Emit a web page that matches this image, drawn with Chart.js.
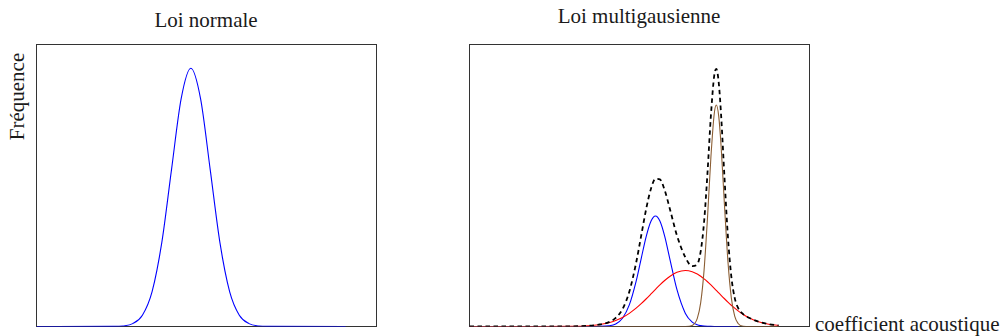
<!DOCTYPE html>
<html>
<head>
<meta charset="utf-8">
<script src="https://cdn.jsdelivr.net/npm/chart.js@4/dist/chart.umd.min.js"></script>
<style>
  html, body { margin: 0; padding: 0; background: #fff; }
  body { width: 1008px; height: 336px; position: relative; overflow: hidden; }
  .txt { position: absolute; font-family: "Liberation Serif", "Times New Roman", serif; font-size: 21px; line-height: 21px; color: #1a1a1a; white-space: nowrap; }
  .panel { position: absolute; top: 40px; width: 352px; height: 292px; }
</style>
</head>
<body>
<div class="txt" id="t1" style="left:206px; top:9.7px; transform:translateX(-50%);">Loi normale</div>
<div class="txt" id="t2" style="left:639px; top:5.7px; transform:translateX(-50%);">Loi multigausienne</div>
<div class="txt" id="yl" style="left:-82.6px; top:85.5px; width:200px; text-align:center; transform:rotate(-90deg);">Fréquence</div>
<div class="txt" id="xl" style="left:815px; top:314.4px;">coefficient acoustique</div>
<div class="panel" style="left:30px;"><canvas id="c1"></canvas></div>
<div class="panel" style="left:463px;"><canvas id="c2"></canvas></div>
<script>
// ---- data (x in % of box width, y as fraction of box height) ----
const leftX = [0, 22.6, 25.45, 28.3, 31.15, 34.0, 36.85, 39.7, 42.55, 45.4, 48.25, 51.1, 53.95, 56.8, 59.65, 62.5, 65.35, 68.2, 90.9];
const leftNormal = [0, 0.0003, 0.0020, 0.0102, 0.0402, 0.1239, 0.2973, 0.5553, 0.8080, 0.9156, 0.8080, 0.5553, 0.2973, 0.1239, 0.0402, 0.0102, 0.0020, 0.0003, 0];

const rightX = [0, 20, 30, 35, 38, 41, 43, 45, 47, 49, 50.5, 52, 53.4, 54.7, 56, 57.4, 59, 61, 63.5, 65.5, 67, 68, 69, 70, 71, 72, 72.6, 73.3, 74, 75, 76, 77, 78, 79, 80.5, 82.5, 85, 88, 90.9];
const blueComp = [0, 0, 0, 0, 0.0002, 0.0022, 0.0090, 0.0294, 0.0765, 0.1602, 0.2411, 0.3207, 0.3742, 0.3920, 0.3742, 0.3207, 0.2356, 0.1313, 0.0464, 0.0158, 0.0061, 0.0030, 0.0014, 0.0006, 0.0003, 0.0001, 0, 0, 0, 0, 0, 0, 0, 0, null, null, null, null, null];
const redComp = [0, 0, 0.0005, 0.0027, 0.0063, 0.0135, 0.0213, 0.0322, 0.0467, 0.0650, 0.0809, 0.0984, 0.1155, 0.1316, 0.1473, 0.1630, 0.1783, 0.1921, 0.1986, 0.1944, 0.1861, 0.1783, 0.1691, 0.1587, 0.1473, 0.1353, 0.1279, 0.1192, 0.1105, 0.0984, 0.0866, 0.0754, 0.0650, 0.0554, 0.0428, 0.0292, 0.0170, 0.0082, 0.0037];
const brownComp = [0, 0, 0, 0, 0, 0, 0, 0, 0, 0, 0, 0, 0, 0, 0, 0, 0, 0, 0.0001, 0.0039, 0.0290, 0.0848, 0.2009, 0.3858, 0.6000, 0.7563, 0.7855, 0.7461, 0.6392, 0.4285, 0.2328, 0.1025, 0.0365, 0.0106, 0.0011, 0, 0, 0, 0];
const mixture = [0, 0, 0.0005, 0.0027, 0.0065, 0.0157, 0.0303, 0.0616, 0.1233, 0.2252, 0.3220, 0.4190, 0.4897, 0.5236, 0.5215, 0.4837, 0.4139, 0.3234, 0.2451, 0.2141, 0.2212, 0.2661, 0.3714, 0.5451, 0.7476, 0.8917, 0.9134, 0.8653, 0.7497, 0.5269, 0.3194, 0.1779, 0.1015, 0.0660, 0.0439, 0.0292, 0.0170, 0.0082, 0.0037];

function pts(xs, ys) { return xs.map((x, i) => ({ x: x, y: ys[i] })); }

const boxPlugin = {
  id: 'box',
  beforeDatasetsDraw(chart) {
    const a = chart.chartArea, ctx = chart.ctx;
    ctx.save();
    ctx.strokeStyle = '#333';
    ctx.lineWidth = 1;
    ctx.strokeRect(a.left, a.top, a.right - a.left, a.bottom - a.top);
    ctx.restore();
  }
};

function opts() {
  return {
    responsive: true,
    maintainAspectRatio: false,
    animation: false,
    events: [],
    layout: { padding: { left: 6.5, right: 5.5, top: 4.5, bottom: 5.5 } },
    plugins: { legend: { display: false }, tooltip: { enabled: false }, title: { display: false } },
    elements: { point: { radius: 0 }, line: { cubicInterpolationMode: 'monotone' } },
    scales: {
      x: { type: 'linear', min: 0, max: 100, display: false },
      y: { type: 'linear', min: 0, max: 1, display: false }
    }
  };
}

new Chart(document.getElementById('c1'), {
  type: 'line',
  data: { datasets: [
    { data: pts(leftX, leftNormal), borderColor: '#0000ff', borderWidth: 1.1, fill: false }
  ] },
  options: opts(),
  plugins: [boxPlugin]
});

new Chart(document.getElementById('c2'), {
  type: 'line',
  data: { datasets: [
    { data: pts(rightX, blueComp), borderColor: '#0000ff', borderWidth: 1.1, fill: false, order: 3, spanGaps: false },
    { data: pts(rightX, redComp), borderColor: '#ff0000', borderWidth: 1.1, fill: false, order: 2 },
    { data: pts(rightX, brownComp), borderColor: '#8b5e34', borderWidth: 1.1, fill: false, order: 1 },
    { data: pts(rightX, mixture), borderColor: '#000000', borderWidth: 1.8, borderDash: [4.5, 3.5], fill: false, order: 0 }
  ] },
  options: opts(),
  plugins: [boxPlugin]
});
</script>
</body>
</html>
